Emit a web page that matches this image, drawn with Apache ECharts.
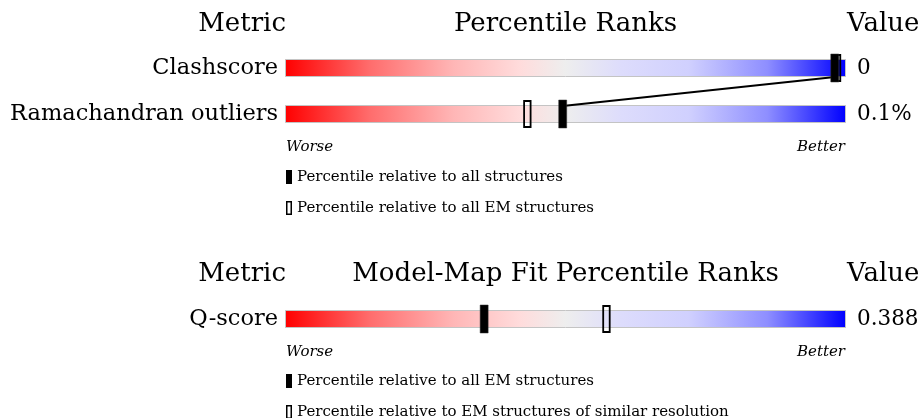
<!DOCTYPE html>
<html>
<head>
<meta charset="utf-8">
<script src="https://cdn.jsdelivr.net/npm/echarts@6/dist/echarts.min.js"></script>
<style>
html,body{margin:0;padding:0;background:#fff;}
#chart{width:922px;height:418px;}
</style>
</head>
<body>
<div id="chart"></div>
<script>
// ---- data ----
var topMetrics = ['Clashscore', 'Ramachandran outliers'];
var topValues = ['0', '0.1%'];
var topPctAll = [98, 49.5];      // filled marker: relative to all structures
var topPctEM = [98.4, 43.2];     // open marker: relative to all EM structures
var fitMetrics = ['Q-score'];
var fitValues = ['0.388'];
var fitPctAllEM = [35.5];        // filled marker: relative to all EM structures
var fitPctSimRes = [57.3];       // open marker: relative to EM structures of similar resolution
var fullScale = [100, 100];

var topHeader = ['Metric', 'Percentile Ranks', 'Value'];
var fitHeader = ['Metric', 'Model-Map Fit Percentile Ranks', 'Value'];
var topLegend = ['Percentile relative to all structures', 'Percentile relative to all EM structures'];
var fitLegend = ['Percentile relative to all EM structures', 'Percentile relative to EM structures of similar resolution'];
var scaleEnds = ['Worse', 'Better'];

// ---- styles ----
var SERIF = '"DejaVu Serif", serif';
var gradient = new echarts.graphic.LinearGradient(0, 0, 1, 0, [
  {offset: 0, color: '#ff0000'},
  {offset: 0.15, color: '#ff6c6c'},
  {offset: 0.3, color: '#ffb6b6'},
  {offset: 0.42, color: '#ffdcdc'},
  {offset: 0.5, color: '#eeeeee'},
  {offset: 0.6, color: '#dddcfc'},
  {offset: 0.72, color: '#d0d0fe'},
  {offset: 0.86, color: '#8e8eff'},
  {offset: 1, color: '#0000ff'}
]);

var BAR_L = 285, BAR_W = 561;

function markerItem(open) {
  return function (params, api) {
    var p = api.coord([api.value(0), api.value(1)]);
    if (open) {
      return {type: 'rect', shape: {x: p[0] - 3.25, y: p[1] - 13, width: 6.5, height: 26},
        style: {fill: 'rgba(0,0,0,0)', stroke: '#000', lineWidth: 1.8}};
    }
    return {type: 'rect', shape: {x: p[0] - 4, y: p[1] - 14, width: 8, height: 28},
      style: {fill: '#000', stroke: '#333', lineWidth: 0.5}};
  };
}

function pairs(vals, cats) {
  return vals.map(function (v, i) { return [v, cats[i]]; });
}

function barSeries(idx, cats, vals) {
  return {
    type: 'bar', xAxisIndex: idx, yAxisIndex: idx, barWidth: 18, z: 1,
    data: fullScale.slice(0, cats.length),
    itemStyle: {color: gradient, borderColor: '#c4c4c4', borderWidth: 1},
    label: {show: true, position: 'right', distance: 11,
      formatter: function (p) { return vals[p.dataIndex]; },
      fontFamily: SERIF, fontSize: 21.5, color: '#000'},
    silent: true, animation: false
  };
}

function txt(text, x, y, size, align, italic) {
  return {type: 'text', x: x, y: y, silent: true,
    style: {text: text, fill: '#000', align: align, verticalAlign: 'middle',
      font: (italic ? 'italic ' : '') + size + 'px ' + SERIF}};
}

function legendBlock(labels, y0) {
  var out = [];
  out.push({type: 'rect', shape: {x: 286, y: y0 - 7, width: 6, height: 14}, style: {fill: '#000'}, silent: true});
  out.push(txt(labels[0], 297, y0, 15, 'left'));
  out.push({type: 'rect', shape: {x: 286.75, y: y0 + 31 - 6.25, width: 4.5, height: 12.5},
    style: {fill: '#fff', stroke: '#000', lineWidth: 1.5}, silent: true});
  out.push(txt(labels[1], 297, y0 + 31, 15, 'left'));
  return out;
}

var graphics = [];
graphics.push(txt(topHeader[0], 286, 24, 26, 'right'));
graphics.push(txt(topHeader[1], BAR_L + BAR_W / 2, 24, 26, 'center'));
graphics.push(txt(topHeader[2], 847, 24, 26, 'left'));
graphics.push(txt(scaleEnds[0], 286, 147, 15, 'left', true));
graphics.push(txt(scaleEnds[1], 845, 147, 15, 'right', true));
graphics = graphics.concat(legendBlock(topLegend, 177));
graphics.push(txt(fitHeader[0], 286, 274, 26, 'right'));
graphics.push(txt(fitHeader[1], BAR_L + BAR_W / 2, 274, 26, 'center'));
graphics.push(txt(fitHeader[2], 847, 274, 26, 'left'));
graphics.push(txt(scaleEnds[0], 286, 352, 15, 'left', true));
graphics.push(txt(scaleEnds[1], 845, 352, 15, 'right', true));
graphics = graphics.concat(legendBlock(fitLegend, 381));

var yAxisBase = {
  type: 'category', inverse: true,
  axisLine: {show: false}, axisTick: {show: false}, splitLine: {show: false},
  axisLabel: {fontFamily: SERIF, fontSize: 22.5, color: '#000', margin: 7}
};

var option = {
  animation: false,
  backgroundColor: '#fff',
  grid: [
    {left: BAR_L, width: BAR_W, top: 45, height: 92},
    {left: BAR_L, width: BAR_W, top: 296, height: 46}
  ],
  xAxis: [
    {type: 'value', gridIndex: 0, min: 0, max: 100, show: false},
    {type: 'value', gridIndex: 1, min: 0, max: 100, show: false}
  ],
  yAxis: [
    Object.assign({gridIndex: 0, data: topMetrics}, yAxisBase),
    Object.assign({gridIndex: 1, data: fitMetrics}, yAxisBase)
  ],
  series: [
    barSeries(0, topMetrics, topValues),
    {
      type: 'custom', xAxisIndex: 0, yAxisIndex: 0, silent: true, z: 10,
      data: [[topPctAll[1], topMetrics[1], topPctAll[0], topMetrics[0]]],
      encode: {x: [0, 2], y: [1, 3]},
      renderItem: function (params, api) {
        var a = api.coord([api.value(0), api.value(1)]);
        var b = api.coord([api.value(2), api.value(3)]);
        return {type: 'line', shape: {x1: a[0], y1: a[1] - 8, x2: b[0], y2: b[1] + 9},
          style: {stroke: '#000', lineWidth: 2}};
      }
    },
    {type: 'custom', xAxisIndex: 0, yAxisIndex: 0, silent: true, z: 11,
      data: pairs(topPctEM, topMetrics), renderItem: markerItem(true)},
    {type: 'custom', xAxisIndex: 0, yAxisIndex: 0, silent: true, z: 12,
      data: pairs(topPctAll, topMetrics), renderItem: markerItem(false)},
    barSeries(1, fitMetrics, fitValues),
    {type: 'custom', xAxisIndex: 1, yAxisIndex: 1, silent: true, z: 11,
      data: pairs(fitPctSimRes, fitMetrics), renderItem: markerItem(true)},
    {type: 'custom', xAxisIndex: 1, yAxisIndex: 1, silent: true, z: 12,
      data: pairs(fitPctAllEM, fitMetrics), renderItem: markerItem(false)}
  ],
  graphic: graphics
};

var chart = echarts.init(document.getElementById('chart'), null, {renderer: 'canvas'});
chart.setOption(option);
</script>
</body>
</html>
